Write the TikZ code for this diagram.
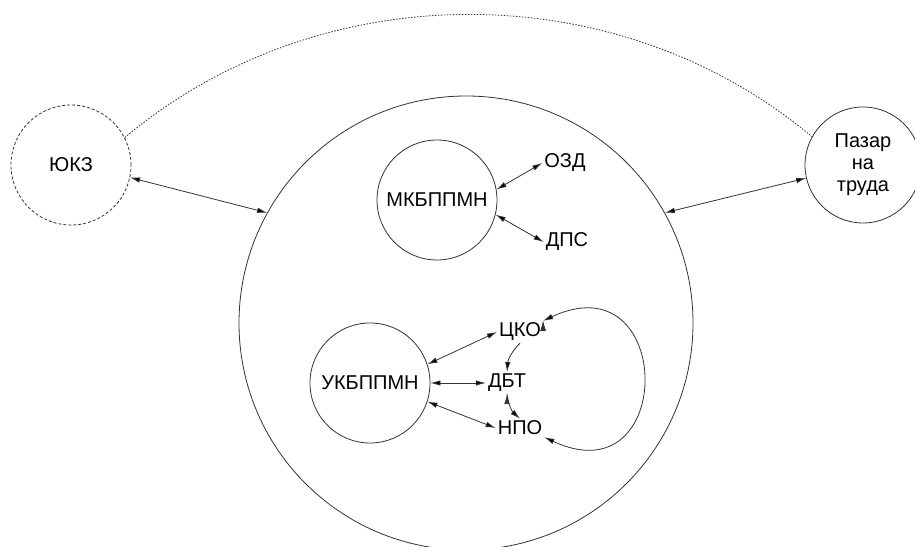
\documentclass[tikz,border=0pt]{standalone}
\usepackage{fontspec}
\setmainfont{Liberation Sans}
\usetikzlibrary{arrows.meta}

\begin{document}
\begin{tikzpicture}[x=1pt,y=1pt,
    every node/.style={font=\fontsize{20}{22}\selectfont},
    circ/.style={circle,draw=black!80,line width=0.8pt,minimum size=#1,inner sep=0pt},
    lbl/.style={inner sep=2pt},
    >={Latex[length=10pt,width=5.5pt]}]
    \useasboundingbox (0,0) rectangle (915,546);
    %circles
    \node[circ=454] (inst) at (466,223) {};
    \node[circ=120,dash pattern=on 3pt off 2pt] (jukz) at (71,381) {ЮКЗ};
    \node[circ=116,align=center] (pazar) at (863,381) {Пазар\\на\\труда};
    \node[circ=120] (mkb) at (437,346) {МКБППМН};
    \node[circ=120] (ukb) at (370,163) {УКБППМН};
    %labels
    \node[lbl] (ozd) at (565,383) {ОЗД};
    \node[lbl] (dps) at (567,304) {ДПС};
    \node[lbl] (cko) at (520,214) {ЦКО};
    \node[lbl] (dbt) at (507,163) {ДБТ};
    \node[lbl] (npo) at (520,118) {НПО};
    %edges
    \draw[black!80,line width=0.8pt,dash pattern=on 1.5pt off 1.5pt]
      (jukz.27) to[out=40,in=140,looseness=0.95] (pazar.151);
    \path[<->,draw=black!80,line width=0.8pt]
     (jukz.-12) edge (inst.151)
     (inst.29) edge (pazar.-167)
     (mkb.10) edge (ozd.west)
     (mkb.-14) edge (dps.west)
     (ukb.18) edge (cko.west)
     (ukb.0) edge (dbt.west)
     (ukb.-18) edge (npo.west)
     (cko.north east) edge[out=25,in=-25,looseness=3.2] (npo.south east);
    \path[->,draw=black!80,line width=0.8pt]
     (cko.south) edge[bend right=20] (dbt.north)
     (dbt.south) edge[bend right=20] (npo.north);
\end{tikzpicture}
\end{document}
